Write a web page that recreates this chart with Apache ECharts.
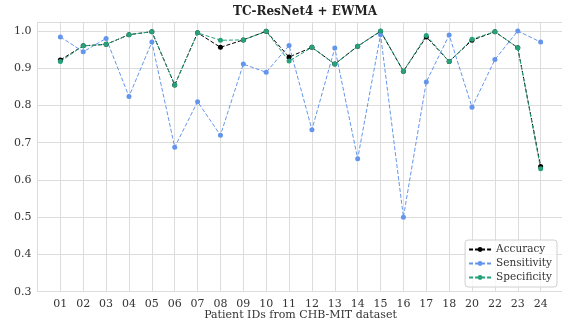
<!DOCTYPE html>
<html><head><meta charset="utf-8">
<script src="https://cdn.jsdelivr.net/npm/echarts@6/dist/echarts.min.js"></script>
<style>html,body{margin:0;padding:0;background:#fff}#c{width:562px;height:321px}</style>
</head><body><div id="c"></div>
<script>
const categories = ['01','02','03','04','05','06','07','08','09','10','11','12','13','14','15','16','17','18','20','22','23','24'];
const accuracy = [0.922,0.960,0.964,0.990,0.998,0.855,0.995,0.956,0.976,0.999,0.930,0.956,0.911,0.959,0.999,0.892,0.984,0.918,0.975,0.998,0.955,0.636];
const sensitivity = [0.984,0.944,0.980,0.824,0.970,0.688,0.810,0.720,0.911,0.889,0.961,0.735,0.954,0.657,0.990,0.500,0.863,0.989,0.795,0.923,1.000,0.970];
const specificity = [0.918,0.960,0.964,0.990,0.998,0.855,0.995,0.975,0.976,0.999,0.919,0.956,0.911,0.959,1.000,0.892,0.988,0.918,0.978,0.998,0.955,0.630];
const yTicks = [0.3,0.4,0.5,0.6,0.7,0.8,0.9,1.0];

const font = 'DejaVu Serif';
const gridColor = '#dcdcdc';
const pts = arr => arr.map((v,i)=>[i,v]);
function mk(name, data, color){
  return {name, type:'line', data:pts(data), symbol:'circle', symbolSize:5,
    itemStyle:{color}, lineStyle:{color, width:1, type:[4,2]}, animation:false};
}
const chart = echarts.init(document.getElementById('c'));
chart.setOption({
  animation:false,
  title:{text:'TC-ResNet4 + EWMA', left:300, top:1, textAlign:'center',
    textStyle:{fontFamily:font, fontWeight:'bold', fontSize:12, color:'#222'}},
  grid:{left:37.5, right:-1.5, top:22, bottom:29.3, containLabel:false, outerBoundsMode:'none'},
  xAxis:{type:'value', min:-1, max:22, interval:1,
    name:'Patient IDs from CHB-MIT dataset', nameLocation:'middle', nameGap:18, nameMoveOverlap:false,
    nameTextStyle:{fontFamily:font, fontSize:11, color:'#333'},
    axisLine:{show:true, lineStyle:{color:gridColor}}, axisTick:{show:false},
    axisLabel:{fontFamily:font, fontSize:11, color:'#333', margin:7,
      formatter:v=> (v>=0 && v<categories.length) ? categories[v] : ''},
    splitLine:{show:true, lineStyle:{color:gridColor, width:1}}},
  yAxis:{type:'value', min:0.3, max:1.024, interval:0.1,
    axisLine:{show:true, lineStyle:{color:gridColor}}, axisTick:{show:false},
    axisLabel:{fontFamily:font, fontSize:11, color:'#333', margin:6,
      formatter:v=>{const t=yTicks.find(y=>Math.abs(y-v)<1e-6); return t!==undefined? t.toFixed(1):'';}},
    splitLine:{show:true, lineStyle:{color:gridColor, width:1}}},
  legend:{right:5, bottom:34, orient:'vertical', itemWidth:22, itemHeight:6, itemGap:3,
    padding:[4,5,4,3], borderColor:'#d0d0d0', borderWidth:1, borderRadius:3,
    backgroundColor:'rgba(255,255,255,0.8)',
    textStyle:{fontFamily:font, fontSize:10.5, color:'#333'},
    data:['Accuracy','Sensitivity','Specificity']},
  series:[
    mk('Accuracy', accuracy, '#000000'),
    mk('Sensitivity', sensitivity, '#6495ED'),
    mk('Specificity', specificity, '#26a17b')
  ]
});
</script></body></html>
